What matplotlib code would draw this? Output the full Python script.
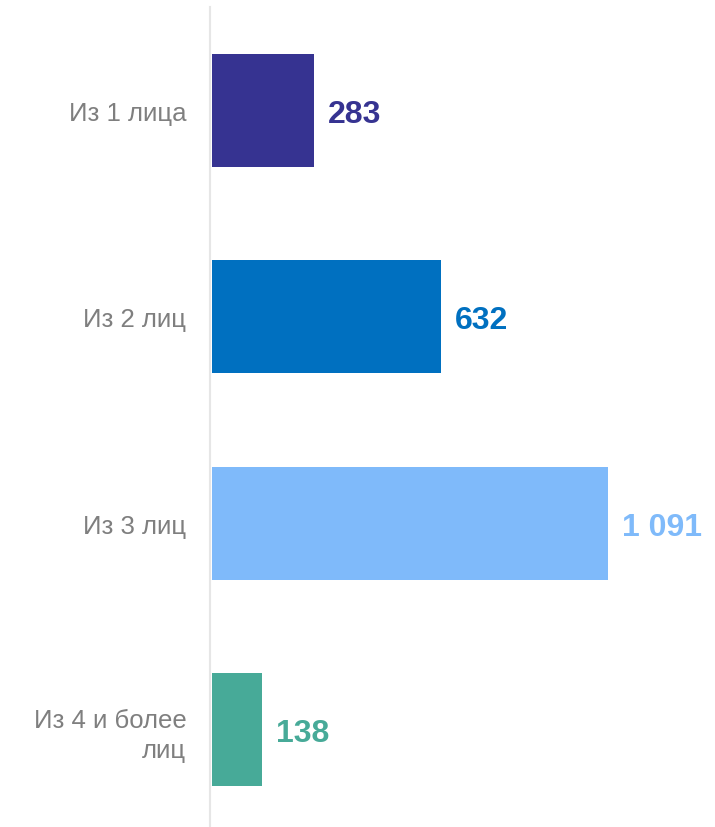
import matplotlib
matplotlib.use("Agg")
import matplotlib.pyplot as plt

categories = ["Из 1 лица", "Из 2 лиц", "Из 3 лиц", "Из 4 и более\nлиц"]
values = [283, 632, 1091, 138]
colors = ["#363391", "#0070C0", "#7FBAFA", "#47AA98"]

plt.rcParams['font.family'] = ['Liberation Sans', 'DejaVu Sans']

fig = plt.figure(figsize=(7.15, 8.28), dpi=100)
ax = fig.add_axes([210 / 715, 0, 505 / 715, 820 / 828])

# spine position first, it resets the ticks
for s in ["top", "right", "bottom"]:
    ax.spines[s].set_visible(False)
ax.spines["left"].set_color("#E6E6E6")
ax.spines["left"].set_linewidth(1.5)
ax.spines["left"].set_position(("data", -5))

y = range(len(categories))
ax.barh(y, values, height=0.547, color=colors, left=0)
ax.set_xlim(-5, 1387)
ax.set_ylim(3.47, -0.501)

for i, v in enumerate(values):
    label = f"{v:,}".replace(",", " ")
    ax.annotate(label, xy=(v, i), xytext=(10, 0), textcoords="offset points",
                va="center_baseline", ha="left", fontsize=23, fontweight="bold",
                color=colors[i])

ax.set_yticks(list(y))
ax.set_yticklabels(categories, fontsize=18.5, color="#7F7F7F", linespacing=1.3)
ax.tick_params(axis="y", length=0, pad=17)
ax.set_xticks([])

fig.savefig("out.png", dpi=100)
